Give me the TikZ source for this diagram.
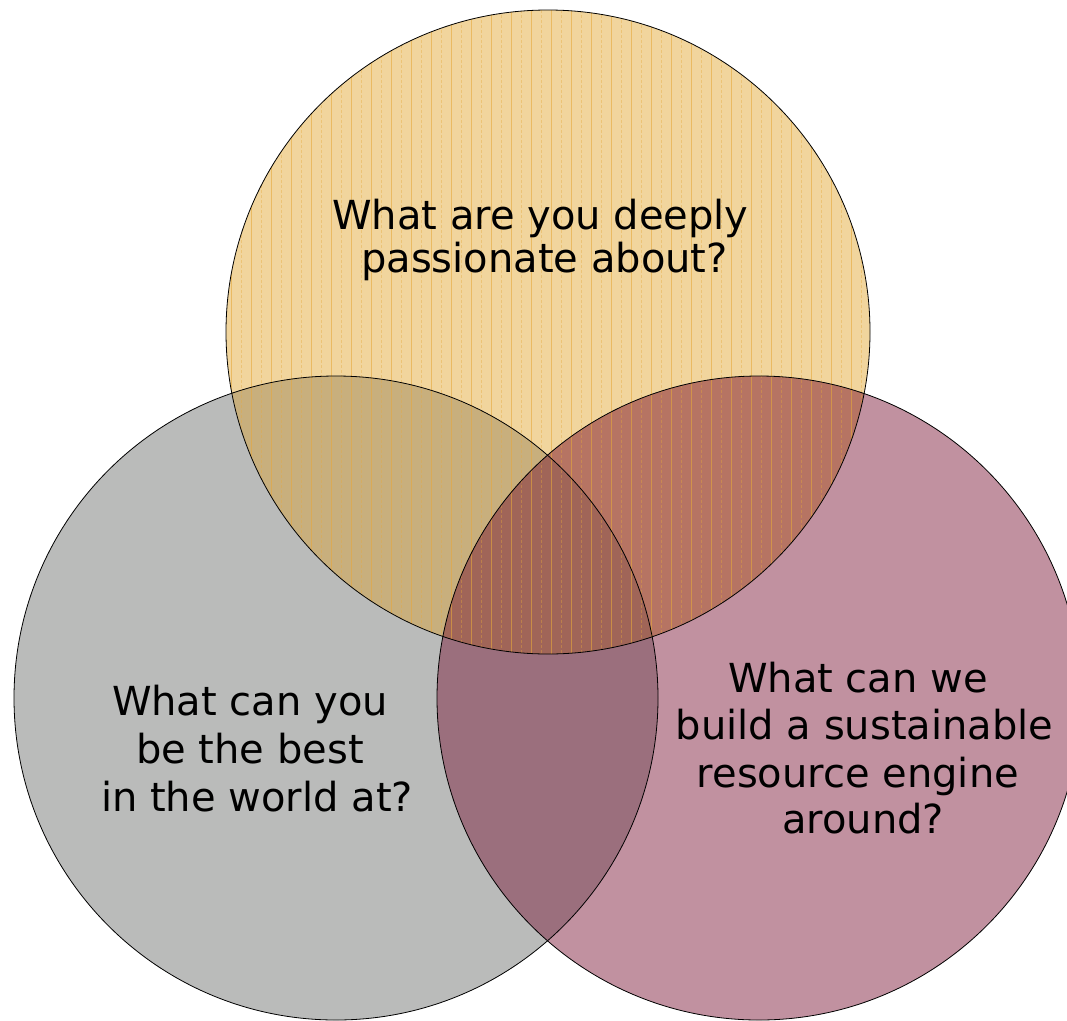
\documentclass[tikz,border=0pt]{standalone}
\usepackage{fontspec}
\setmainfont{DejaVu Sans}
\begin{document}
\begin{tikzpicture}[x=1pt,y=-1pt,
  txt/.style={anchor=base,inner sep=0pt,font=\fontsize{40}{48}\selectfont,text=black},
  outline/.style={draw=black,line width=0.8pt},
  stripe/.style={draw=stripec,line width=1pt,opacity=0.6},
  stripeb/.style={draw=stripec,line width=1pt,opacity=0.4,dash pattern=on 3pt off 2pt}]
\definecolor{topc}{RGB}{241,213,157}
\definecolor{leftc}{RGB}{186,187,186}
\definecolor{rightc}{RGB}{193,145,160}
\definecolor{tlc}{RGB}{200,175,125}
\definecolor{trc}{RGB}{182,116,99}
\definecolor{lrc}{RGB}{155,111,125}
\definecolor{allc}{RGB}{160,101,88}
\definecolor{stripec}{RGB}{230,168,60}
\useasboundingbox (0,0) rectangle (1067,1020);
\fill[white] (0,0) rectangle (1067,1020);
\coordinate (T) at (548,332);
\coordinate (L) at (336,698);
\coordinate (R) at (759,698);
\def\rr{322pt}
% base fills
\fill[leftc] (L) circle[radius=\rr];
\fill[rightc] (R) circle[radius=\rr];
\fill[topc] (T) circle[radius=\rr];
% pairwise overlaps
\begin{scope}
  \clip (T) circle[radius=\rr];
  \fill[tlc] (L) circle[radius=\rr];
  \fill[trc] (R) circle[radius=\rr];
\end{scope}
\begin{scope}
  \clip (L) circle[radius=\rr];
  \fill[lrc] (R) circle[radius=\rr];
  \clip (T) circle[radius=\rr];
  \fill[allc] (R) circle[radius=\rr];
\end{scope}
% vertical stripes of the top circle
\begin{scope}
  \clip (T) circle[radius=\rr];
  \foreach \x in {231,251,...,871} \draw[stripe] (\x,10) -- (\x,654);
  \foreach \x in {241,261,...,871} \draw[stripeb] (\x,10) -- (\x,654);
\end{scope}
% outlines
\draw[outline] (L) circle[radius=\rr];
\draw[outline] (R) circle[radius=\rr];
\draw[outline] (T) circle[radius=\rr];
% texts
\node[txt] (t1) at (540.5,229) {What are you deeply};
\node[txt] (t2) at (544.5,272) {passionate about?};
\node[txt] (l1) at (250,715) {What can you};
\node[txt] (l2) at (250,763) {be the best};
\node[txt] (l3) at (257,811) {in the world at?};
\node[txt] (r1) at (858,692) {What can we};
\node[txt] (r2) at (864.5,739) {build a sustainable};
\node[txt] (r3) at (858,787) {resource engine};
\node[txt] (r4) at (863,833) {around?};
\end{tikzpicture}
\end{document}
